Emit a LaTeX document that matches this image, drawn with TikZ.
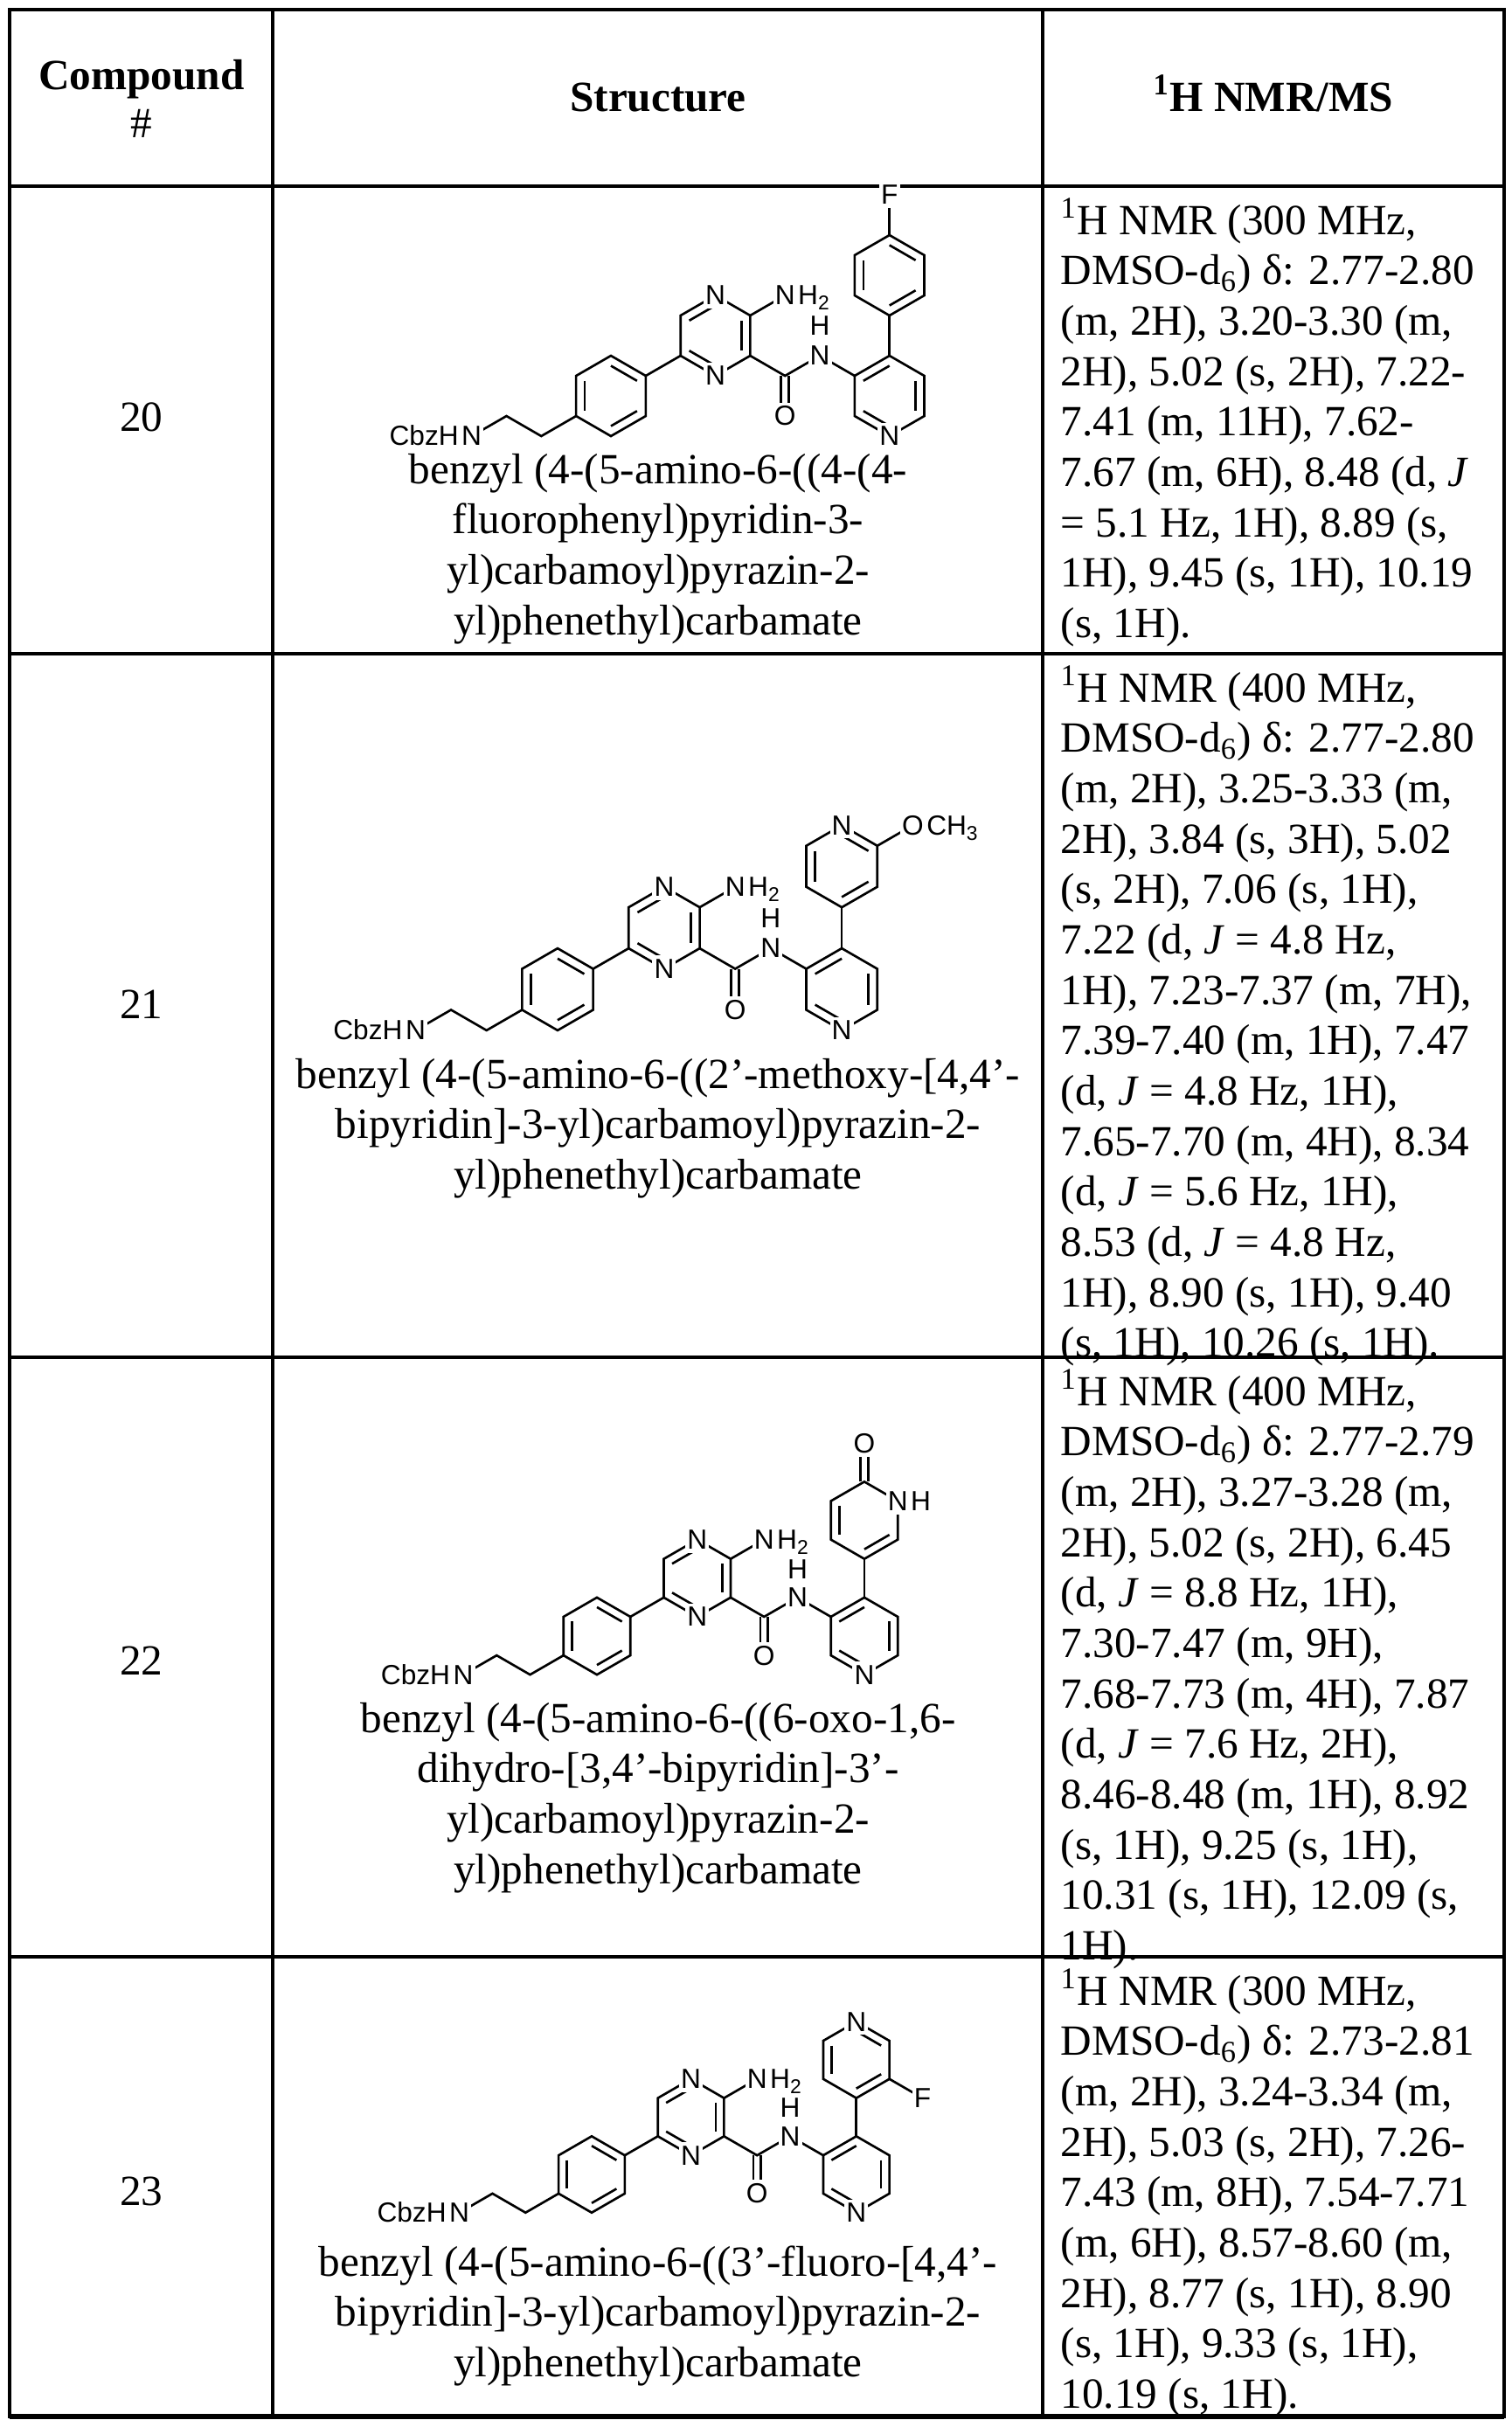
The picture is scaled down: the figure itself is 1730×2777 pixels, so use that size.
\documentclass[tikz,border=0pt]{standalone}
\usepackage{fontspec}
\setmainfont{Liberation Serif}
\newfontfamily\molfont{Liberation Sans}
\usetikzlibrary{calc}
\newcommand\lsub[1]{\raisebox{-0.35ex}{\fontsize{6.5}{7}\selectfont #1}}
\newcommand\hexring[3]{%
 \coordinate (#1c) at ({#2},{#3});
 \coordinate (#1-1) at ({#2},{#3-46});
 \coordinate (#1-2) at ({#2+39.84},{#3-23});
 \coordinate (#1-3) at ({#2+39.84},{#3+23});
 \coordinate (#1-4) at ({#2},{#3+46});
 \coordinate (#1-5) at ({#2-39.84},{#3+23});
 \coordinate (#1-6) at ({#2-39.84},{#3-23});
 \draw[bond] (#1-1)--(#1-2)--(#1-3)--(#1-4)--(#1-5)--(#1-6)--cycle;}
\newcommand\dbl[3]{\draw[bond] ($(#1c)!0.75!(#1-#2)$) -- ($(#1c)!0.75!(#1-#3)$);}
\newcommand\core[1]{%
 \hexring{P}{0}{0}\dbl{P}{6}{5}\dbl{P}{1}{2}\dbl{P}{3}{4}
 \hexring{Q}{119.52}{-69}\dbl{Q}{6}{1}\dbl{Q}{2}{3}\dbl{Q}{5}{4}
 \hexring{R}{318.72}{0}\dbl{R}{6}{1}\dbl{R}{2}{3}\dbl{R}{5}{4}
 \coordinate (c1) at (-79.68,46); \coordinate (c2) at (-119.52,23);
 \coordinate (ncbz) at (-159.36,46); \coordinate (nh2) at (199.2,-115);
 \coordinate (cc) at (199.2,-23); \coordinate (oc) at (199.2,23);
 \coordinate (nam) at (239.04,-46);
 \draw[bond] (ncbz)--(c2)--(c1)--(P-5);
 \draw[bond] (P-2)--(Q-5);
 \draw[bond] (Q-2)--(nh2);
 \draw[bond] (Q-3)--(cc)--(nam)--(R-6);
 \draw[bond] (194.7,-23)--(194.7,23) (203.7,-23)--(203.7,23);
 \node[atom] (#1Nc) at (ncbz) {N};
 \node[atomt,anchor=base east] (#1Cbz) at (#1Nc.base west) {CbzH};
 \node[atom] (#1N1) at (Q-1) {N};
 \node[atom] (#1N4) at (Q-4) {N};
 \node[atom] (#1Na) at (nh2) {N};
 \node[atomt,anchor=base west] (#1H2) at (#1Na.base east) {H\lsub{2}};
 \node[atom] (#1O) at (oc) {O};
 \node[atom] (#1Nm) at (nam) {N};
 \node[atom] (#1Hm) at (239.04,-80) {H};
 \node[atom] (#1Np) at (R-4) {N};
}
\newcommand\upper{\hexring{S}{318.72}{-138}\draw[bond] (R-1)--(S-4);}
\newcommand\mol[5]{\begin{scope}[shift={(#2,#3)},scale=#4]\core{#1}#5\end{scope}}
\tikzset{
 bond/.style={line width=0.75pt},
 atom/.style={font=\molfont\fontsize{9}{10}\selectfont, fill=white, inner xsep=0.6pt, inner ysep=1.2pt},
 atomt/.style={font=\molfont\fontsize{9}{10}\selectfont, inner sep=0pt},
 grid/.style={line width=0.9pt},
 txt/.style={inner sep=0pt, font=\fontsize{14}{16.4}\selectfont},
}
\begin{document}
\begin{tikzpicture}[x=0.01cm,y=-0.01cm]
\useasboundingbox (0,0) rectangle (1730,2777);
% grid
\draw[grid] (11,11) rectangle (1721,2765);
\foreach \yy in {213,748,1553,2239} \draw[grid] (11,\yy) -- (1721,\yy);
\draw[grid] (312,11) -- (312,2765);
\draw[grid] (1193,11) -- (1193,2765);
\draw[line width=1.5pt] (11,2765) -- (1721,2765);
% header
\node[txt,anchor=base] (h1) at (162,102) {\textbf{Compound}};
\node[txt,anchor=base] (h2) at (162,157) {\#};
\node[txt,anchor=base] (h3) at (753,127) {\textbf{Structure}};
\node[txt,anchor=base] (h4) at (1457,127) {\textbf{\textsuperscript{1}H NMR/MS}};
% numbers
\node[txt,anchor=base] (n20) at (162,493) {20};
\node[txt,anchor=base] (n21) at (162,1165) {21};
\node[txt,anchor=base] (n22) at (162,1916) {22};
\node[txt,anchor=base] (n23) at (162,2523) {23};
% names
\node[txt,anchor=base] (s20) at (753,553) {\begin{tabular}[t]{@{}c@{}}benzyl (4-(5-amino-6-((4-(4-\\fluorophenyl)pyridin-3-\\yl)carbamoyl)pyrazin-2-\\yl)phenethyl)carbamate\end{tabular}};
\node[txt,anchor=base] (s21) at (753,1245) {\begin{tabular}[t]{@{}c@{}}benzyl (4-(5-amino-6-((2'-methoxy-[4,4'-\\bipyridin]-3-yl)carbamoyl)pyrazin-2-\\yl)phenethyl)carbamate\end{tabular}};
\node[txt,anchor=base] (s22) at (753,1982) {\begin{tabular}[t]{@{}c@{}}benzyl (4-(5-amino-6-((6-oxo-1,6-\\dihydro-[3,4'-bipyridin]-3'-\\yl)carbamoyl)pyrazin-2-\\yl)phenethyl)carbamate\end{tabular}};
\node[txt,anchor=base] (s23) at (753,2604) {\begin{tabular}[t]{@{}c@{}}benzyl (4-(5-amino-6-((3'-fluoro-[4,4'-\\bipyridin]-3-yl)carbamoyl)pyrazin-2-\\yl)phenethyl)carbamate\end{tabular}};
% NMR
\node[txt,anchor=base west] (m20) at (1213,268) {\begin{tabular}[t]{@{}l@{}}\textsuperscript{1}H NMR (300 MHz,\\DMSO-d\textsubscript{6}) δ: 2.77-2.80\\(m, 2H), 3.20-3.30 (m,\\2H), 5.02 (s, 2H), 7.22-\\7.41 (m, 11H), 7.62-\\7.67 (m, 6H), 8.48 (d, \textit{J}\\= 5.1 Hz, 1H), 8.89 (s,\\1H), 9.45 (s, 1H), 10.19\\(s, 1H).\end{tabular}};
\node[txt,anchor=base west] (m21) at (1213,803) {\begin{tabular}[t]{@{}l@{}}\textsuperscript{1}H NMR (400 MHz,\\DMSO-d\textsubscript{6}) δ: 2.77-2.80\\(m, 2H), 3.25-3.33 (m,\\2H), 3.84 (s, 3H), 5.02\\(s, 2H), 7.06 (s, 1H),\\7.22 (d, \textit{J} = 4.8 Hz,\\1H), 7.23-7.37 (m, 7H),\\7.39-7.40 (m, 1H), 7.47\\(d, \textit{J} = 4.8 Hz, 1H),\\7.65-7.70 (m, 4H), 8.34\\(d, \textit{J} = 5.6 Hz, 1H),\\8.53 (d, \textit{J} = 4.8 Hz,\\1H), 8.90 (s, 1H), 9.40\\(s, 1H), 10.26 (s, 1H).\end{tabular}};
\node[txt,anchor=base west] (m22) at (1213,1608) {\begin{tabular}[t]{@{}l@{}}\textsuperscript{1}H NMR (400 MHz,\\DMSO-d\textsubscript{6}) δ: 2.77-2.79\\(m, 2H), 3.27-3.28 (m,\\2H), 5.02 (s, 2H), 6.45\\(d, \textit{J} = 8.8 Hz, 1H),\\7.30-7.47 (m, 9H),\\7.68-7.73 (m, 4H), 7.87\\(d, \textit{J} = 7.6 Hz, 2H),\\8.46-8.48 (m, 1H), 8.92\\(s, 1H), 9.25 (s, 1H),\\10.31 (s, 1H), 12.09 (s,\\1H).\end{tabular}};
\node[txt,anchor=base west] (m23) at (1213,2294) {\begin{tabular}[t]{@{}l@{}}\textsuperscript{1}H NMR (300 MHz,\\DMSO-d\textsubscript{6}) δ: 2.73-2.81\\(m, 2H), 3.24-3.34 (m,\\2H), 5.03 (s, 2H), 7.26-\\7.43 (m, 8H), 7.54-7.71\\(m, 6H), 8.57-8.60 (m,\\2H), 8.77 (s, 1H), 8.90\\(s, 1H), 9.33 (s, 1H),\\10.19 (s, 1H).\end{tabular}};
% molecules
\mol{a}{699}{453}{1.0}{\upper\dbl{S}{6}{5}\dbl{S}{1}{2}\dbl{S}{3}{4}
 \draw[bond] (S-1)--(318.72,-230); \node[atom] (aF) at (318.72,-230) {F};}
\mol{b}{638}{1132}{1.02}{\upper\dbl{S}{6}{5}\dbl{S}{1}{2}\dbl{S}{3}{4}
 \draw[bond] (S-2)--(398.4,-184); \node[atom] (bNs) at (S-1) {N};
 \node[atom] (bOs) at (398.4,-184) {O}; \node[atomt,anchor=base west] (bCH) at (bOs.base east) {CH\lsub{3}};}
\mol{c}{683}{1872}{0.96}{\upper\dbl{S}{6}{5}\dbl{S}{3}{4}
 \draw[bond] (314.2,-184)--(314.2,-230) (323.2,-184)--(323.2,-230);
 \node[atom] (cOs) at (318.72,-230) {O}; \node[atom] (cNs) at (S-2) {N};
 \node[atomt,anchor=base west] (cHs) at (cNs.base east) {H};}
\mol{d}{677}{2488}{0.95}{\upper\dbl{S}{6}{5}\dbl{S}{1}{2}\dbl{S}{3}{4}
 \draw[bond] (S-3)--(398.4,-92); \node[atom] (dNs) at (S-1) {N};
 \node[atom] (dF) at (398.4,-92) {F};}
\end{tikzpicture}
\end{document}
